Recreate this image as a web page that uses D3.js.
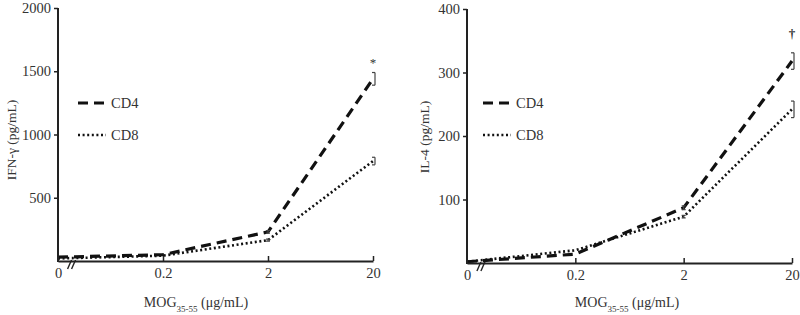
<!DOCTYPE html>
<html>
<head>
<meta charset="utf-8">
<script src="https://cdn.jsdelivr.net/npm/d3@7"></script>
<style>
  body { margin: 0; background: #fff; }
  text { font-family: "Liberation Serif", "DejaVu Serif", serif; fill: #333; }
</style>
</head>
<body>
<svg id="chart" width="800" height="315"></svg>
<script>
// categories on the x axis (equally spaced, with an axis break after 0)
var doses = ["0", "0.2", "2", "20"];

// IFN-gamma (pg/mL)
var ifnCD4 = [30, 50, 230, 1440];
var ifnCD8 = [20, 42, 165, 790];
var ifnCD4Err = [0, 0, 10, 50];
var ifnCD8Err = [0, 0, 8, 30];
var ifnTicks = [500, 1000, 1500, 2000];

// IL-4 (pg/mL)
var il4CD4 = [2, 14, 87, 318];
var il4CD8 = [2, 20, 73, 242];
var il4CD4Err = [0, 0, 3, 13];
var il4CD8Err = [0, 0, 2, 13];
var il4Ticks = [100, 200, 300, 400];

var seriesNames = ["CD4", "CD8"];

var svg = d3.select("#chart");

/*
** one panel = axes, two lines, error bars, legend
*/
function drawPanel(opt) {
    var x = d3.scalePoint().domain(doses).range([opt.x0, opt.x1]);
    var y = d3.scaleLinear().domain([0, opt.ymax]).range([opt.y0, opt.y1]);
    var g = svg.append("g");

    var line = d3.line()
        .x(function(d, i) { return x(doses[i]); })
        .y(function(d) { return y(d); })
    ;

    var styles = [
          { dash: "10 6", width: 3.2 }
        , { dash: "2 2.6", width: 2.6 }
      ]
    ;

    [opt.cd4, opt.cd8].forEach(function(vals, k) {
        g.append("path")
            .datum(vals)
            .attr("d", line)
            .attr("fill", "none")
            .attr("stroke", "#111")
            .attr("stroke-width", styles[k].width)
            .attr("stroke-dasharray", styles[k].dash)
        ;
    });

    // error bars: "]" at the last dose, small "I" at dose 2
    [[opt.cd4, opt.cd4Err], [opt.cd8, opt.cd8Err]].forEach(function(pair) {
        pair[0].forEach(function(v, i) {
            var e = pair[1][i];
            if (!e) return;
            var last = i === doses.length - 1;
            var cx = x(doses[i]) + (last ? 2 : 0);
            var lo = y(v - e), hi = y(v + e);
            var eb = g.append("g").attr("stroke", "#444").attr("stroke-width", 1.2);
            eb.append("line").attr("x1", cx).attr("x2", cx).attr("y1", lo).attr("y2", hi);
            var cl = last ? cx - 3 : cx - 2;
            var cr = last ? cx : cx + 2;
            eb.append("line").attr("x1", cl).attr("x2", cr).attr("y1", lo).attr("y2", lo);
            eb.append("line").attr("x1", cl).attr("x2", cr).attr("y1", hi).attr("y2", hi);
        });
    });

    // significance mark
    g.append("text")
        .attr("x", x(doses[doses.length - 1]))
        .attr("y", opt.markY)
        .attr("text-anchor", "middle")
        .style("font-size", opt.markSize + "px")
        .style("font-weight", opt.markBold ? "bold" : "normal")
        .text(opt.mark)
    ;

    // axes
    var yAxis = d3.axisLeft(y)
        .tickValues(opt.ticks)
        .tickFormat(d3.format("d"))
        .tickSizeInner(4)
        .tickSizeOuter(0)
        .tickPadding(3)
    ;
    var ya = g.append("g")
        .attr("transform", "translate(" + opt.x0 + ",0)")
        .call(yAxis)
    ;
    ya.select(".domain").attr("d", "M0," + (opt.y0 + 1) + "V" + opt.y1);

    var xAxis = d3.axisBottom(x)
        .tickSizeInner(-5)
        .tickSizeOuter(0)
        .tickPadding(7)
    ;
    var xa = g.append("g")
        .attr("transform", "translate(0," + opt.y0 + ")")
        .call(xAxis)
    ;
    xa.selectAll(".tick").filter(function(d) { return d === "0"; }).select("line").remove();

    [ya, xa].forEach(function(a) {
        a.select(".domain").attr("stroke", "#222").attr("stroke-width", 2);
        a.selectAll(".tick line").attr("stroke", "#222").attr("stroke-width", 1.5);
        a.selectAll(".tick text")
            .style("font-family", '"Liberation Serif", serif')
            .style("font-size", "14.5px")
            .attr("fill", "#333");
    });

    // axis break "//"
    var bx = opt.x0 + (x(doses[1]) - opt.x0) * 0.11;
    [0, 4].forEach(function(dx) {
        g.append("line")
            .attr("x1", bx + dx - 2).attr("y1", opt.y0 + 8)
            .attr("x2", bx + dx + 2).attr("y2", opt.y0 - 1)
            .attr("stroke", "#222").attr("stroke-width", 1.4);
    });

    // axis titles
    var xt = g.append("text")
        .attr("x", opt.xTitleX)
        .attr("y", 307)
        .attr("text-anchor", "middle")
        .style("font-size", "14px")
    ;
    xt.append("tspan").text("MOG");
    xt.append("tspan").attr("baseline-shift", "sub").style("font-size", "9px").text("35-55");
    xt.append("tspan").text(" (\u03bcg/mL)");

    g.append("text")
        .attr("transform", "translate(" + opt.yTitleX + "," + opt.yTitleY + ") rotate(-90)")
        .attr("text-anchor", "middle")
        .style("font-size", "13.5px")
        .text(opt.yTitle)
    ;

    // legend
    seriesNames.forEach(function(name, k) {
        var ly = opt.legY + k * 32;
        g.append("line")
            .attr("x1", opt.legX).attr("x2", opt.legX + 28)
            .attr("y1", ly).attr("y2", ly)
            .attr("stroke", "#111")
            .attr("stroke-width", styles[k].width)
            .attr("stroke-dasharray", styles[k].dash)
        ;
        g.append("text")
            .attr("x", opt.legX + 33)
            .attr("y", ly + 5)
            .style("font-size", "14.5px")
            .text(name)
        ;
    });
}

drawPanel({
      x0: 58, x1: 373, y0: 261, y1: 8, ymax: 2000
    , cd4: ifnCD4, cd8: ifnCD8, cd4Err: ifnCD4Err, cd8Err: ifnCD8Err
    , ticks: ifnTicks, yTitle: "IFN-\u03b3 (pg/mL)"
    , mark: "*", markY: 67, markSize: 13, markBold: false
    , xTitleX: 196, yTitleX: 16, yTitleY: 140
    , legX: 78, legY: 103
  })
;
drawPanel({
      x0: 467, x1: 792, y0: 263, y1: 9, ymax: 400
    , cd4: il4CD4, cd8: il4CD8, cd4Err: il4CD4Err, cd8Err: il4CD8Err
    , ticks: il4Ticks, yTitle: "IL-4 (pg/mL)"
    , mark: "\u2020", markY: 38, markSize: 13, markBold: true
    , xTitleX: 627, yTitleX: 429, yTitleY: 137
    , legX: 483, legY: 103
  })
;
</script>
</body>
</html>
